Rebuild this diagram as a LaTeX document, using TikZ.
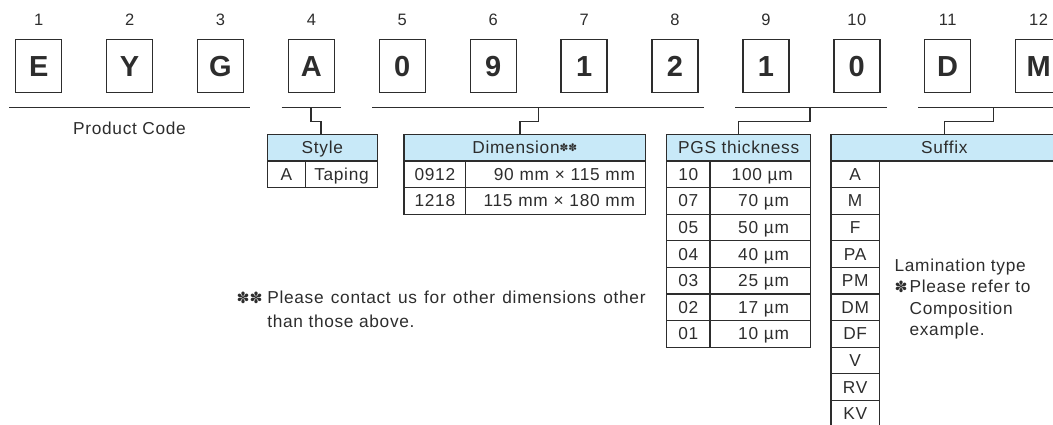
\documentclass[tikz,border=0pt]{standalone}
\usepackage{fontspec}
\setmainfont[LetterSpace=4]{Liberation Sans}
\newfontfamily\starfont{DejaVu Sans}
\usepackage{tikz}
\usetikzlibrary{positioning}
\definecolor{ink}{RGB}{45,45,45}
\definecolor{headblue}{RGB}{200,233,248}

\begin{document}
\begin{tikzpicture}[x=1pt,y=-1pt,line width=1.2pt,color=ink]
\tikzset{letter/.style = {shape=rectangle,draw,line width=1.4pt,minimum width=46pt,minimum height=53pt,inner sep=0pt,text height=21pt,text depth=0pt,font=\fontsize{29}{29}\selectfont\bfseries}}
\tikzset{posnum/.style = {inner sep=0pt,text height=11.7pt,text depth=0pt,font=\fontsize{16.5}{16}\selectfont}}
\tikzset{txt/.style = {inner sep=0pt,text height=12pt,text depth=0pt,font=\fontsize{17.3}{20}\selectfont}}
\tikzset{head/.style = {txt,shape=rectangle,draw,fill=headblue,minimum height=26.3pt,minimum width=#1,outer sep=0pt,anchor=north west}}
\tikzset{cell/.style = {txt,shape=rectangle,draw,minimum height=26.6pt,minimum width=#1,outer sep=0pt,anchor=north west}}
\tikzset{val/.style 2 args = {cell=#1,text width=#2,align=right}}
\tikzset{note/.style = {inner sep=0pt,align=left,anchor=north west}}
\newcommand{\smallstar}{{\starfont\fontsize{15.5}{15}\selectfont ✽}}
\useasboundingbox (0,0) rectangle (1053,425);
% code letters
\foreach \ch [count=\i] in {E,Y,G,A,0,9,1,2,1,0,D,M}{
  \node[letter] (c\i) at ({38.7+90.9*(\i-1)},66) {\ch};
  \node[posnum] (n\i) at ({38.7+90.9*(\i-1)},19.2) {\i};
}
% underlines
\coordinate (pcl) at (9,107.7);      \coordinate (pcr) at (250,107.7);
\coordinate (stylel) at (281.7,107.7); \coordinate (styler) at (340.7,107.7);
\coordinate (diml) at (372.3,107.7);  \coordinate (dimr) at (704,107.7);
\coordinate (pgsl) at (735,107.7);    \coordinate (pgsr) at (886.7,107.7);
\coordinate (sufl) at (918.3,107.7);  \coordinate (sufr) at (1060,107.7);
\draw (pcl) -- (pcr);
\draw (stylel) -- (styler);
\draw (diml) -- (dimr);
\draw (pgsl) -- (pgsr);
\draw (sufl) -- (sufr);
\node[txt] (pcode) at (129.5,128.7) {Product Code};
% style
\node[head=110pt] (stylehd) at (267.3,134.7) {Style};
\node[cell=38.4pt] (stylea) at (267.3,161) {A};
\node[cell=71.6pt,right=0pt of stylea] (styleb) {Taping};
% dimension
\node[head=241.7pt] (dimhd) at (404,134.7) {Dimension\raisebox{2.5pt}{\starfont\fontsize{10.5}{10}\selectfont ✽✽}};
\foreach \code/\size [count=\i] in {0912/90 mm × 115 mm,1218/115 mm × 180 mm}{
  \node[cell=61.7pt] (dim\i) at (404,{161+26.6*(\i-1)}) {\code};
  \node[val={180pt}{158.6pt},right=0pt of dim\i] (dimv\i) {\size};
}
% pgs thickness
\node[head=144pt] (pgshd) at (666.7,134.7) {PGS thickness};
\foreach \code/\thick [count=\i] in {10/100,07/70,05/50,04/40,03/25,02/17,01/10}{
  \node[cell=43.3pt] (pgs\i) at (666.7,{161+26.6*(\i-1)}) {\code};
  \node[val={100.7pt}{57.3pt},right=0pt of pgs\i] (pgsv\i) {\thick~µm};
}
% suffix
\node[head=226.6pt] (sufhd) at (831,134.7) {Suffix};
\foreach \code [count=\i] in {A,M,F,PA,PM,DM,DF,V,RV,KV}
  \node[cell=48.3pt] (suf\i) at (831,{161+26.6*(\i-1)}) {\code};
% taps
\coordinate (styletap) at (311,107.7);
\coordinate (dimtap) at (538.3,107.7);
\coordinate (pgstap) at (810,107.7);
\coordinate (suftap) at (993.3,107.7);
\draw (styletap) -- ++(0,14) -| ([xshift=-1.3pt]stylehd.north);
\draw (dimtap) -- ++(0,14) -| ([xshift=-4.9pt]dimhd.north);
\draw (pgstap) -- ++(0,14) -| (pgshd.north);
\draw (suftap) -- ++(0,14) -| (sufhd.north);
% notes
\node[note,font=\fontsize{17.3}{21.5}\selectfont] (lamnote) at (894,258.3)
  {Lamination type\\\makebox[15pt][l]{\smallstar}Please refer to\\\hspace*{15pt}Composition\\\hspace*{15pt}example.};
\node[note,font=\fontsize{17.3}{23.3}\selectfont] (dimnote) at (236,290.7)
  {\makebox[30.7pt][l]{\smallstar\smallstar}\makebox[378.3pt][s]{Please contact us for other dimensions other}\\\hspace*{30.7pt}than those above.};
\end{tikzpicture}
\end{document}
